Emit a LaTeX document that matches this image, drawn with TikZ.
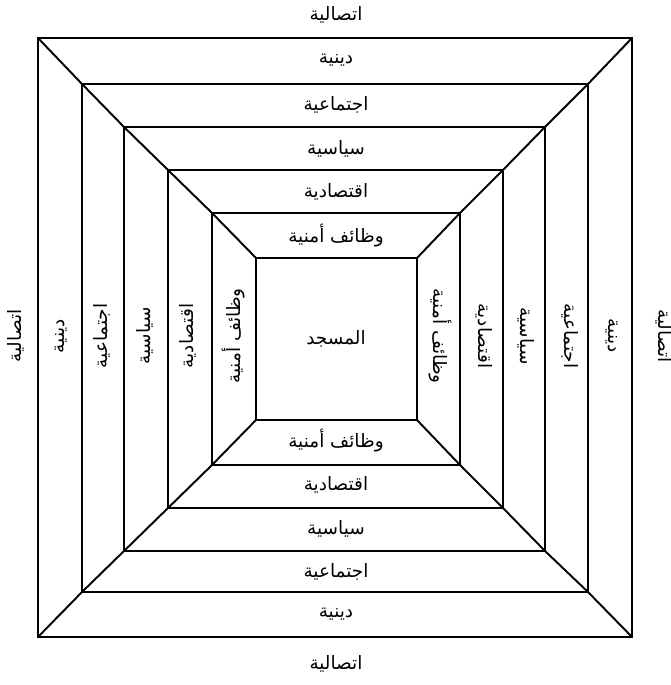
\documentclass[tikz,border=0pt]{standalone}
\usepackage{fontspec}
\newfontfamily\arabicfont[Script=Arabic]{DejaVu Sans}
\TeXXeTstate=1
\newcommand{\artext}[1]{\beginR #1\endR}

\begin{document}
\begin{tikzpicture}[
    x=0.02cm, y=-0.02cm,
    every node/.style={font=\arabicfont\fontsize{10.5}{12}\selectfont, inner sep=1pt},
    frame/.style={line width=1.4pt},
    edge/.style={line width=1.1pt}
]

\useasboundingbox (0,0) rectangle (671,685);

% Corners of the nested squares (pixel grid, y downwards)
\foreach \n/\l/\t/\r/\b in {1/38/38/632/637, 2/82/84/588/592, 3/124/127/545/551,
                             4/168/170/503/508, 5/212/213/460/465, 6/256/258/417/420} {
  \coordinate (s\n nw) at (\l,\t);
  \coordinate (s\n ne) at (\r,\t);
  \coordinate (s\n sw) at (\l,\b);
  \coordinate (s\n se) at (\r,\b);
}

% Squares
\draw[frame] (s1nw) rectangle (s1se);
\draw[frame] (s2nw) rectangle (s2se);
\draw[frame] (s3nw) rectangle (s3se);
\draw[frame] (s4nw) rectangle (s4se);
\draw[frame] (s5nw) rectangle (s5se);
\draw[frame] (s6nw) rectangle (s6se);

% Diagonals through the corners
\draw[edge] (s1nw) -- (s2nw) -- (s3nw) -- (s4nw) -- (s5nw) -- (s6nw);
\draw[edge] (s1ne) -- (s2ne) -- (s3ne) -- (s4ne) -- (s5ne) -- (s6ne);
\draw[edge] (s1sw) -- (s2sw) -- (s3sw) -- (s4sw) -- (s5sw) -- (s6sw);
\draw[edge] (s1se) -- (s2se) -- (s3se) -- (s4se) -- (s5se) -- (s6se);

% Centre
\node (mosque) at (336,339) {\artext{المسجد}};

% Top labels
\node (tOut) at (336,15)  {\artext{اتصالية}};
\node (tRel) at (336,60)  {\artext{دينية}};
\node (tSoc) at (336,105) {\artext{اجتماعية}};
\node (tPol) at (336,149) {\artext{سياسية}};
\node (tEco) at (336,192) {\artext{اقتصادية}};
\node (tSec) at (336,236) {\artext{وظائف أمنية}};

% Bottom labels
\node (bSec) at (336,441) {\artext{وظائف أمنية}};
\node (bEco) at (336,485) {\artext{اقتصادية}};
\node (bPol) at (336,529) {\artext{سياسية}};
\node (bSoc) at (336,572) {\artext{اجتماعية}};
\node (bRel) at (336,614) {\artext{دينية}};
\node (bOut) at (336,664) {\artext{اتصالية}};

% Left labels
\node[rotate=90] (lOut) at (16,336)  {\artext{اتصالية}};
\node[rotate=90] (lRel) at (61,336)  {\artext{دينية}};
\node[rotate=90] (lSoc) at (102,336) {\artext{اجتماعية}};
\node[rotate=90] (lPol) at (145,336) {\artext{سياسية}};
\node[rotate=90] (lEco) at (188,336) {\artext{اقتصادية}};
\node[rotate=90] (lSec) at (234,336) {\artext{وظائف أمنية}};

% Right labels
\node[rotate=-90] (rSec) at (440,336) {\artext{وظائف أمنية}};
\node[rotate=-90] (rEco) at (484,336) {\artext{اقتصادية}};
\node[rotate=-90] (rPol) at (526,336) {\artext{سياسية}};
\node[rotate=-90] (rSoc) at (570,336) {\artext{اجتماعية}};
\node[rotate=-90] (rRel) at (612,336) {\artext{دينية}};
\node[rotate=-90] (rOut) at (664,336) {\artext{اتصالية}};

\end{tikzpicture}
\end{document}
